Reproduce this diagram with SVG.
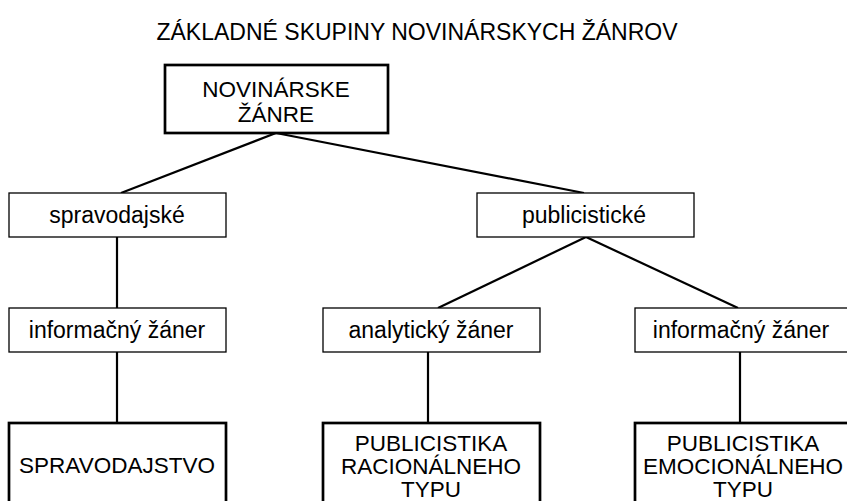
<svg xmlns="http://www.w3.org/2000/svg" width="847" height="501" viewBox="0 0 847 501">
<style>
  text { font-family: "Liberation Sans", Arial, sans-serif; fill: #000; text-anchor: middle; }
  .t { font-size: 23px; }
  .n { font-size: 22.5px; }
  .l { font-size: 23px; }
  .thick { fill: #fff; stroke: #000; stroke-width: 2.7; }
  .thin { fill: #fff; stroke: #000; stroke-width: 1.3; }
  .c { stroke: #000; stroke-width: 2.2; fill: none; }
</style>
<rect width="847" height="501" fill="#fff"/>
<text class="t" x="417" y="40">ZÁKLADNÉ SKUPINY NOVINÁRSKYCH ŽÁNROV</text>
<g id="connectors">
  <line class="c" x1="276" y1="133" x2="121" y2="193"/>
  <line class="c" x1="276" y1="133" x2="584" y2="193"/>
  <line class="c" x1="117" y1="237" x2="117" y2="308"/>
  <line class="c" x1="586" y1="237" x2="438" y2="308"/>
  <line class="c" x1="586" y1="237" x2="738" y2="308"/>
  <line class="c" x1="117" y1="352" x2="117" y2="423"/>
  <line class="c" x1="428" y1="352" x2="428" y2="423"/>
  <line class="c" x1="740" y1="352" x2="740" y2="423"/>
</g>
<g id="novinarske">
  <rect class="thick" x="165" y="65" width="223" height="68"/>
  <text class="n" x="276" y="97">NOVINÁRSKE</text>
  <text class="n" x="276" y="122">ŽÁNRE</text>
</g>
<g id="spravodajske">
  <rect class="thin" x="9" y="193" width="217" height="44"/>
  <text class="l" x="117" y="223">spravodajské</text>
</g>
<g id="publicisticke">
  <rect class="thin" x="477" y="193" width="217" height="44"/>
  <text class="l" x="584" y="223">publicistické</text>
</g>
<g id="informacny1">
  <rect class="thin" x="9" y="308" width="217" height="44"/>
  <text class="l" x="117" y="338">informačný žáner</text>
</g>
<g id="analyticky">
  <rect class="thin" x="323" y="308" width="217" height="44"/>
  <text class="l" x="431" y="338">analytický žáner</text>
</g>
<g id="informacny2">
  <rect class="thin" x="635" y="308" width="217" height="44"/>
  <text class="l" x="741" y="338">informačný žáner</text>
</g>
<g id="spravodajstvo">
  <rect class="thick" x="9" y="423" width="217" height="100"/>
  <text class="n" x="117" y="473">SPRAVODAJSTVO</text>
</g>
<g id="racionalneho">
  <rect class="thick" x="323" y="423" width="217" height="100"/>
  <text class="n" x="431" y="451">PUBLICISTIKA</text>
  <text class="n" x="431" y="474">RACIONÁLNEHO</text>
  <text class="n" x="431" y="497">TYPU</text>
</g>
<g id="emocionalneho">
  <rect class="thick" x="635" y="423" width="217" height="100"/>
  <text class="n" x="743" y="451">PUBLICISTIKA</text>
  <text class="n" x="743" y="474">EMOCIONÁLNEHO</text>
  <text class="n" x="743" y="497">TYPU</text>
</g>
</svg>
